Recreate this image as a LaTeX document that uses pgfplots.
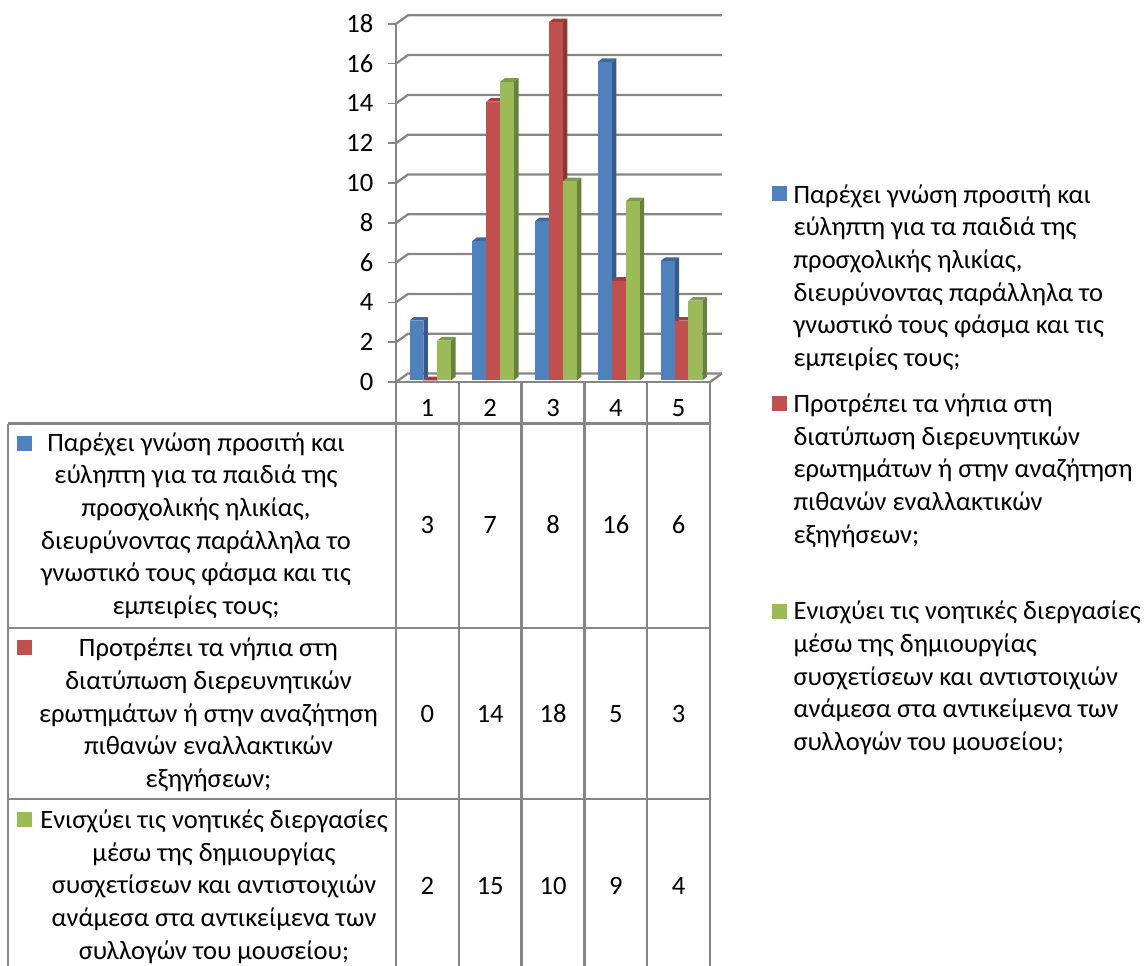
\documentclass[border=0pt]{standalone}
\usepackage{fontspec}
\setmainfont{Carlito}
\usepackage{pgfplots}
\usepackage{pgfplotstable}
\pgfplotsset{compat=1.18}

\definecolor{gridgray}{HTML}{868686}
\definecolor{bluefront}{HTML}{4F81BD}
\definecolor{blueside}{HTML}{34598A}
\definecolor{bluetop}{HTML}{3F689C}
\definecolor{redfront}{HTML}{C0504D}
\definecolor{redside}{HTML}{8B3634}
\definecolor{redtop}{HTML}{A03F3D}
\definecolor{greenfront}{HTML}{9BBB59}
\definecolor{greenside}{HTML}{697F3C}
\definecolor{greentop}{HTML}{7F9A48}

% responses per scale point, one column per statement
\pgfplotstableread{
cat A B C
1   3 0  2
2   7 14 15
3   8 18 10
4   16 5 9
5   6 3  4
}\responses

% depth of the back wall and of a column, in axis units
\def\wallx{0.191}
\def\wally{0.427}
\def\depx{0.072}
\def\depy{0.18}
\def\barw{0.2213}
\def\barbase{0.085}
\def\rulew{1.7pt}

\newcommand\wallline[1]{%
  \pgfmathsetmacro\wy{#1+\wally}%
  \pgfmathsetmacro\wend{5+\wallx}%
  \edef\tmp{\noexpand\addplot[forget plot,draw=gridgray,line width=\rulew]
    coordinates {(0,#1) (\wallx,\wy) (\wend,\wy)};}\tmp}

% one column: group index, position within group, value, colour stem
\newcommand\column[4]{%
  \pgfmathsetmacro\xa{#1+0.215+#2*\barw}%
  \pgfmathsetmacro\xb{\xa+\barw}%
  \pgfmathsetmacro\xc{\xb+\depx}%
  \pgfmathsetmacro\xd{\xa+\depx}%
  \pgfmathsetmacro\yt{#3+\barbase}%
  \pgfmathsetmacro\yu{\yt+\depy}%
  \pgfmathsetmacro\yb{\barbase+\depy}%
  \edef\tmp{%
    \noexpand\addplot[forget plot,fill=#4side,draw=none]
      coordinates {(\xb,\barbase) (\xc,\yb) (\xc,\yu) (\xb,\yt)} --cycle;
    \noexpand\addplot[forget plot,fill=#4top,draw=none]
      coordinates {(\xa,\yt) (\xd,\yu) (\xc,\yu) (\xb,\yt)} --cycle;
    \noexpand\addplot[forget plot,fill=#4front,draw=none]
      coordinates {(\xa,\barbase) (\xb,\barbase) (\xb,\yt) (\xa,\yt)} --cycle;
  }\tmp}

\newcommand\series[3]{%
  \foreach \r in {0,...,4}{%
    \pgfplotstablegetelem{\r}{#1}\of\responses
    \let\val\pgfplotsretval
    \column{\r}{#2}{\val}{#3}%
  }}

\newcommand\bodyfont{\fontsize{19.9pt}{24.5pt}\selectfont}

\begin{document}
\begin{tikzpicture}
\path[use as bounding box] (0,0) rectangle (859.5pt,-724.5pt);

\begin{axis}[
  at={(297pt,-286.5pt)}, anchor=origin,
  x=47.1pt, y=14.925pt,
  xmin=0, xmax=5, ymin=0, ymax=18,
  clip=false,
  axis y line=left, axis x line=bottom,
  axis line style={-,draw=gridgray,line width=\rulew},
  xtick=\empty,
  ytick={0,2,...,18},
  tick align=outside,
  major tick length=6pt,
  tick style={draw=gridgray,line width=1.3pt},
  /pgf/number format/assume math mode=true,
  tick label style={font=\bodyfont},
  yticklabel style={xshift=-7.5pt},
]
  \foreach \v in {0,2,...,18}{\wallline{\v}}
  \pgfmathsetmacro\fx{5+\wallx}
  \edef\tmp{\noexpand\addplot[forget plot,draw=gridgray,line width=\rulew]
    coordinates {(5,0) (\fx,\wally)};}\tmp
  \series{A}{0}{blue}
  \series{B}{1}{red}
  \series{C}{2}{green}
\end{axis}

% data table below the plot and the legend beside it; coordinates in page pixels
\begin{scope}[x=0.75pt,y=-0.75pt]
  \begin{scope}
    \clip (0,0) rectangle (1146,966);
    \draw[gridgray,line width=\rulew]
      (396,382) -- (396,966)
      (8,423.5) -- (8,966)
      (8,423.5) -- (710,423.5)
      (8,627.7) -- (710,627.7)
      (8,799) -- (710,799);
    \foreach \k in {1,...,5}
      \draw[gridgray,line width=\rulew] (396+62.8*\k,382) -- (396+62.8*\k,966);
  \end{scope}

  \foreach \r in {0,...,4}{
    \pgfplotstablegetelem{\r}{cat}\of\responses
    \node[font=\bodyfont] at (427.4+62.8*\r,408) {\pgfplotsretval};
    \pgfplotstablegetelem{\r}{A}\of\responses
    \node[font=\bodyfont] at (427.4+62.8*\r,525) {\pgfplotsretval};
    \pgfplotstablegetelem{\r}{B}\of\responses
    \node[font=\bodyfont] at (427.4+62.8*\r,714) {\pgfplotsretval};
    \pgfplotstablegetelem{\r}{C}\of\responses
    \node[font=\bodyfont] at (427.4+62.8*\r,886) {\pgfplotsretval};
  }

  \fill[bluefront] (17,436) rectangle +(15,15);
  \fill[redfront] (17,640) rectangle +(15,15);
  \fill[greenfront] (17,812) rectangle +(15,15);
  \node[font=\bodyfont,align=center] at (196,525.5) {Παρέχει γνώση προσιτή και\\εύληπτη για τα παιδιά της\\προσχολικής ηλικίας,\\διευρύνοντας παράλληλα το\\γνωστικό τους φάσμα και τις\\εμπειρίες τους;};
  \node[font=\bodyfont,align=center] at (208.5,715) {Προτρέπει τα νήπια στη\\διατύπωση διερευνητικών\\ερωτημάτων ή στην αναζήτηση\\πιθανών εναλλακτικών\\εξηγήσεων;};
  \node[font=\bodyfont,align=center] at (214,886.5) {Ενισχύει τις νοητικές διεργασίες\\μέσω της δημιουργίας\\συσχετίσεων και αντιστοιχιών\\ανάμεσα στα αντικείμενα των\\συλλογών του μουσείου;};

  \fill[bluefront] (772,186) rectangle +(15,15);
  \fill[redfront] (772,396) rectangle +(15,15);
  \fill[greenfront] (772,604) rectangle +(15,15);
  \node[font=\bodyfont,align=left,anchor=west,inner sep=0pt] at (793.3,277.5) {Παρέχει γνώση προσιτή και\\εύληπτη για τα παιδιά της\\προσχολικής ηλικίας,\\διευρύνοντας παράλληλα το\\γνωστικό τους φάσμα και τις\\εμπειρίες τους;};
  \node[font=\bodyfont,align=left,anchor=west,inner sep=0pt] at (793.3,470.5) {Προτρέπει τα νήπια στη\\διατύπωση διερευνητικών\\ερωτημάτων ή στην αναζήτηση\\πιθανών εναλλακτικών\\εξηγήσεων;};
  \node[font=\bodyfont,align=left,anchor=west,inner sep=0pt] at (793.3,678) {Ενισχύει τις νοητικές διεργασίες\\μέσω της δημιουργίας\\συσχετίσεων και αντιστοιχιών\\ανάμεσα στα αντικείμενα των\\συλλογών του μουσείου;};
\end{scope}
\end{tikzpicture}
\end{document}
